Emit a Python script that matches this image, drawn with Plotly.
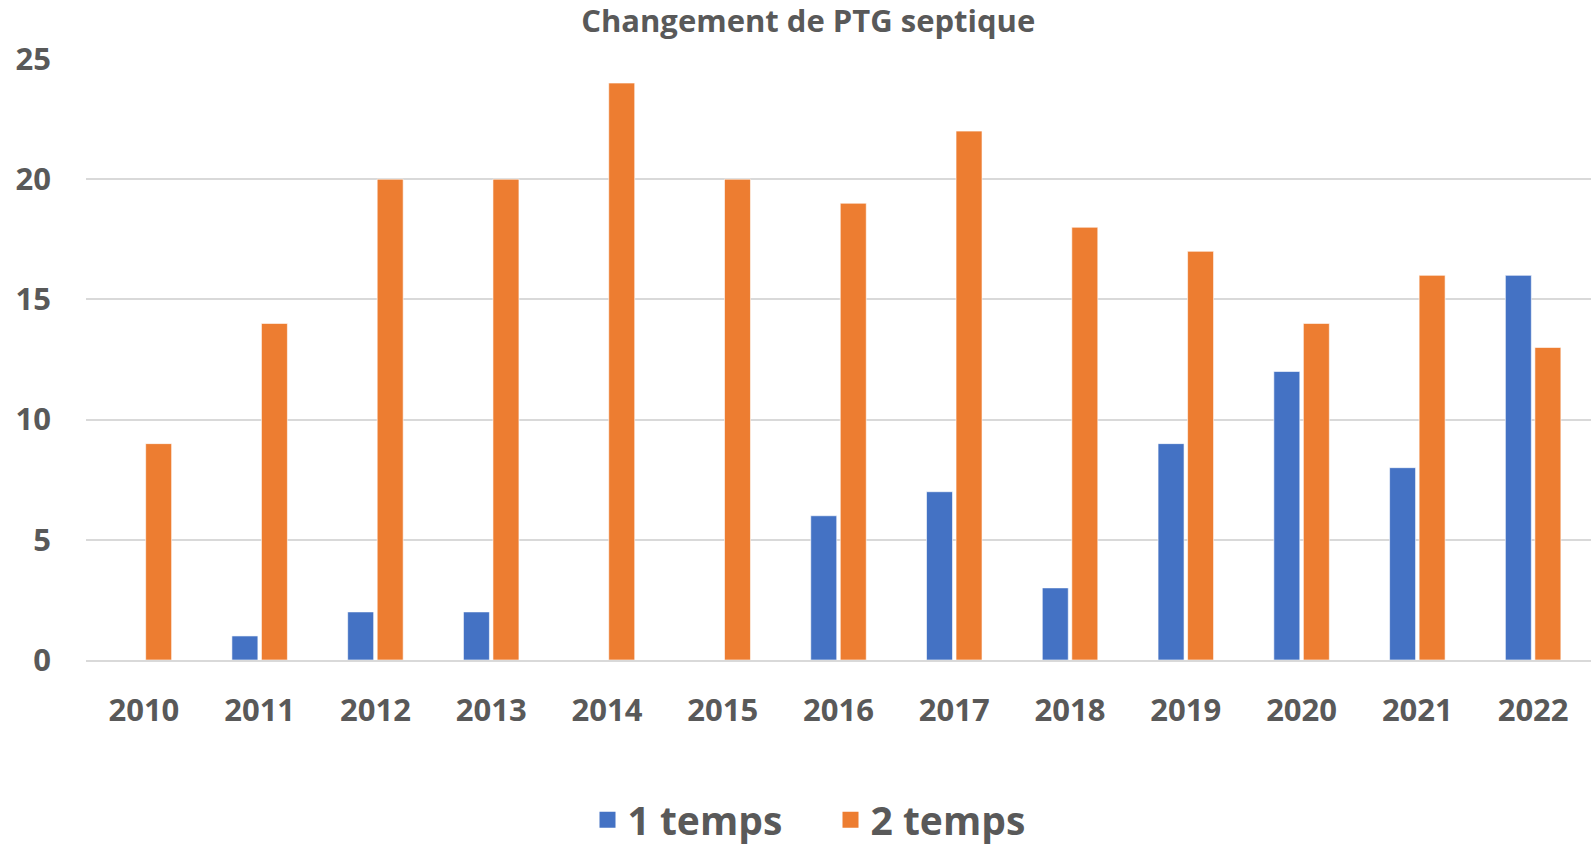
import plotly.graph_objects as go

years = ["2010", "2011", "2012", "2013", "2014", "2015", "2016", "2017", "2018", "2019", "2020", "2021", "2022"]
un_temps = [0, 1, 2, 2, 0, 0, 6, 7, 3, 9, 12, 8, 16]
deux_temps = [9, 14, 20, 20, 24, 20, 19, 22, 18, 17, 14, 16, 13]
y_ticks = [0, 5, 10, 15, 20, 25]
series_names = ["1 temps", "2 temps"]
series_colors = ["#4472C4", "#ED7D31"]

FONT = "Open Sans"
TXT = "#595959"

fig = go.Figure()
for name, vals, col in zip(series_names, [un_temps, deux_temps], series_colors):
    fig.add_trace(go.Bar(x=years, y=vals, name=name, legendgroup=name, showlegend=False,
                         marker=dict(color=col, line=dict(color="#FFFFFF", width=0.6))))
for name, col in zip(series_names, series_colors):
    # legend entry with a larger square swatch
    fig.add_trace(go.Scatter(x=[None], y=[None], mode="markers", name=name, legendgroup=name,
                             marker=dict(symbol="square", size=24, color=col)))

fig.update_layout(
    width=1591, height=846,
    margin=dict(l=86, r=0, t=59, b=186, autoexpand=False),
    paper_bgcolor="white", plot_bgcolor="white",
    barmode="group", bargap=0.49, bargroupgap=0.12,
    title=dict(text="Changement de PTG septique", font=dict(family=FONT, size=31, color=TXT, weight="bold"),
               x=0.508, xref="container", xanchor="center", y=1 - 21 / 846, yref="container", yanchor="middle"),
    font=dict(family=FONT, color=TXT),
    showlegend=True,
    legend=dict(orientation="h", xref="container", yref="container", x=0.522, y=1 - 820 / 846,
                xanchor="center", yanchor="middle", itemsizing="trace",
                entrywidth=198, entrywidthmode="pixels",
                font=dict(family=FONT, size=39, color=TXT, weight="bold"), itemwidth=30,
                tracegroupgap=0),
)
fig.update_xaxes(type="category", tickfont=dict(family=FONT, size=31, color=TXT, weight="bold"),
                 ticklabelstandoff=22, automargin=False,
                 showline=True, linecolor="#D9D9D9", linewidth=1.5, showgrid=False, ticks="")
fig.update_yaxes(range=[0, 25], tickvals=y_ticks, tickfont=dict(family=FONT, size=31, color=TXT, weight="bold"),
                 ticklabelstandoff=34, automargin=False,
                 showgrid=True, gridcolor="#D9D9D9", gridwidth=1.5, zeroline=False, ticks="")

fig.write_html("out.html", config={"displayModeBar": False},
               post_script="document.body.style.margin='0';")
